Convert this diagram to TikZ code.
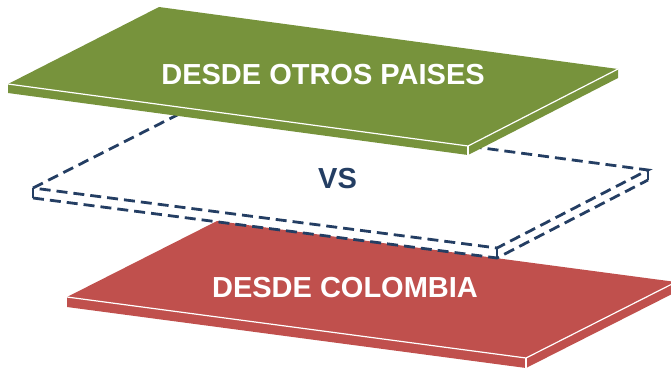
\documentclass[tikz,border=0pt]{standalone}
\usepackage{fontspec}
\setmainfont{Liberation Sans}
\usepackage{xcolor}

\definecolor{slabgreen}{RGB}{119,147,60}
\definecolor{slabred}{RGB}{192,80,77}
\definecolor{dashblue}{RGB}{36,62,99}

\tikzset{
  rim/.style={white, line width=1.2pt},
  ghost/.style={dashblue, line width=2.8pt, dash pattern=on 11pt off 6pt},
  slabtext/.style={font=\fontsize{29}{29}\selectfont\bfseries, white, inner sep=0pt}
}

\begin{document}
\begin{tikzpicture}[x=1pt,y=-1pt]
    \useasboundingbox (0,0) rectangle (671,368);

    % Bottom slab: corners of the top face, then the lower edge
    \coordinate (rB) at (217,221);
    \coordinate (rL) at (67,297);
    \coordinate (rF) at (526,358);
    \coordinate (rR) at (676,282);
    \coordinate (rLb) at (67,307);
    \coordinate (rFb) at (526,368);
    \coordinate (rRb) at (676,292);
    \fill [slabred] (rL) -- (rB) -- (rR) -- (rRb) -- (rFb) -- (rLb) -- cycle;
    \draw [rim] (rL) -- (rF) -- (rR);
    \draw [rim] (rF) -- (rFb);
    \node [slabtext] (colombia) at (345,287.5) {DESDE COLOMBIA};

    % Middle slab: only its outline, dashed
    \coordinate (dL) at (33,188);
    \coordinate (dB) at (189,109);
    \coordinate (dR) at (648,170);
    \coordinate (dF) at (497,248);
    \coordinate (dLb) at (33,198);
    \coordinate (dFb) at (497,258);
    \coordinate (dRb) at (648,180);
    \draw [ghost] (dL) -- (dB) -- (dR) -- (dF) -- cycle;
    \draw [ghost] (dLb) -- (dFb) -- (dRb);
    \draw [ghost] (dL) -- (dLb);
    \draw [ghost] (dF) -- (dFb);
    \draw [ghost] (dR) -- (dRb);
    \node [slabtext, text=dashblue] (vs) at (337.5,179) {VS};

    % Top slab
    \coordinate (gB) at (159,7);
    \coordinate (gL) at (8,84);
    \coordinate (gF) at (468,146);
    \coordinate (gR) at (618,69);
    \coordinate (gLb) at (8,93);
    \coordinate (gFb) at (468,155);
    \coordinate (gRb) at (618,78);
    \fill [slabgreen] (gL) -- (gB) -- (gR) -- (gRb) -- (gFb) -- (gLb) -- cycle;
    \draw [rim] (gL) -- (gF) -- (gR);
    \draw [rim] (gF) -- (gFb);
    \node [slabtext] (otros) at (323,74.5) {DESDE OTROS PAISES};
\end{tikzpicture}
\end{document}
